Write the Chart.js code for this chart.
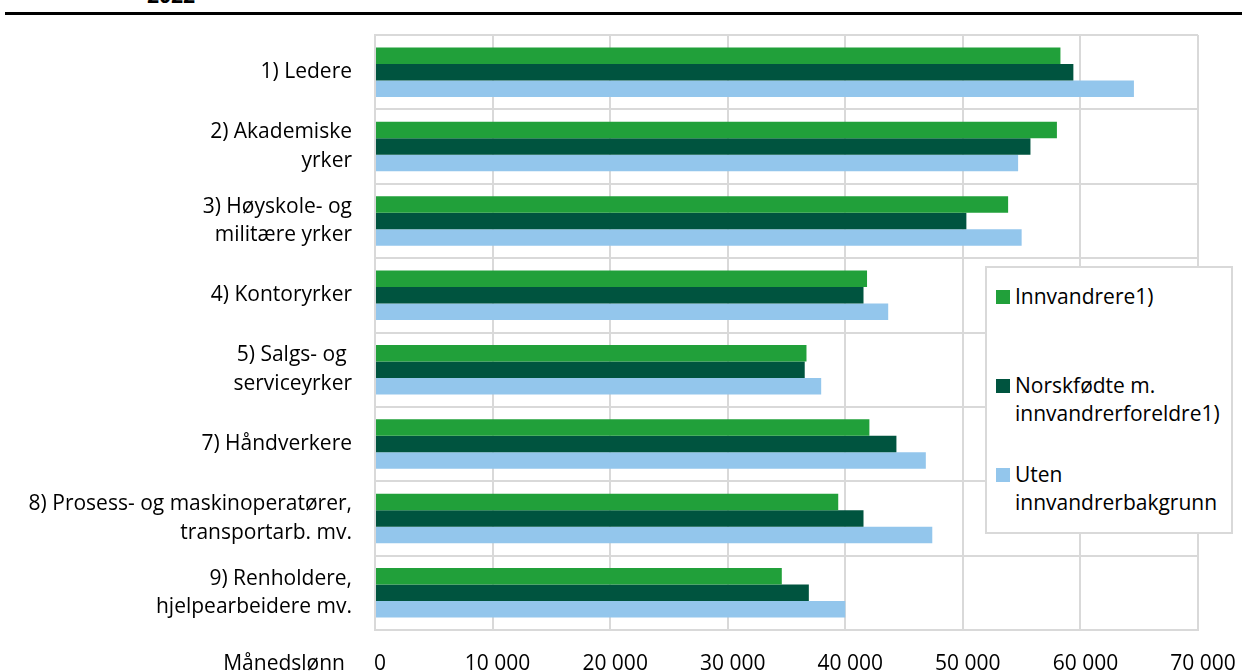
<!DOCTYPE html>
<html lang="no">
<head>
<meta charset="utf-8">
<title>Månedslønn etter yrke og innvandringsbakgrunn</title>
<script src="https://cdn.jsdelivr.net/npm/chart.js@4"></script>
<style>
  html, body { margin: 0; padding: 0; background: #fff; }
  body { width: 1242px; height: 672px; position: relative; overflow: hidden; font-family: "Open Sans", sans-serif; color: #000; }
  #year { position: absolute; left: 147px; top: -19px; font-size: 21px; font-weight: bold; line-height: 28px; }
  #rule { position: absolute; left: 5px; right: 0; top: 12px; height: 3px; background: #000; }
  #wrap { position: absolute; left: 0; top: 0; width: 1242px; height: 672px; }
  #legend { position: absolute; left: 985px; top: 266px; width: 248px; height: 268px; box-sizing: border-box;
            border: 2px solid #d9d9d9; background: #fff; font-size: 21px; line-height: 28px; }
  #legend .item { position: absolute; left: 28px; white-space: nowrap; }
  #legend .sw { position: absolute; left: -19px; top: 8px; width: 14px; height: 14px; }
</style>
</head>
<body>
<div id="year">2022</div>
<div id="rule"></div>
<div id="wrap"><canvas id="lonnChart" width="1242" height="672"></canvas></div>
<div id="legend"></div>
<script>
"use strict";

const C = {
  green: "#21a03a", dark: "#00543f", light: "#93c6ec",
  grid: "#d9d9d9", text: "#000000"
};

// Yrkesgrupper (y-akse)
const categories = [
  "1) Ledere",
  ["2) Akademiske", "yrker"],
  ["3) Høyskole- og", "militære yrker"],
  "4) Kontoryrker",
  ["5) Salgs- og ", "serviceyrker"],
  "7) Håndverkere",
  ["8) Prosess- og maskinoperatører,", "transportarb. mv."],
  ["9) Renholdere,", "hjelpearbeidere mv."]
];

// Månedslønn, kroner
const innvandrere   = [58300, 58000, 53850, 41850, 36700, 42050, 39400, 34600];
const norskfodte    = [59400, 55750, 50300, 41550, 36550, 44350, 41550, 36900];
const utenBakgrunn  = [64550, 54700, 55000, 43650, 37950, 46850, 47400, 40000];

const seriesLabels = ["Innvandrere1)", ["Norskfødte m.", "innvandrerforeldre1)"], ["Uten", "innvandrerbakgrunn"]];
const xTicks = [0, 10000, 20000, 30000, 40000, 50000, 60000, 70000];

const fmt = v => String(v).replace(/\B(?=(\d{3})+(?!\d))/g, " ");

// "Månedslønn" ved siden av x-tickene
const axisNote = {
  id: "axisNote",
  afterDraw(chart) {
    const { ctx, chartArea } = chart;
    ctx.save();
    ctx.font = "21px 'Open Sans'";
    ctx.fillStyle = C.text;
    ctx.textAlign = "right";
    ctx.textBaseline = "alphabetic";
    ctx.fillText("Månedslønn", 345, chartArea.bottom + 40);
    ctx.restore();
  }
};

function buildLegend(chart) {
  const box = document.getElementById("legend");
  const tops = [14, 103, 192];
  chart.data.datasets.forEach((ds, i) => {
    const item = document.createElement("div");
    item.className = "item";
    item.style.top = tops[i] + "px";
    const lines = Array.isArray(seriesLabels[i]) ? seriesLabels[i] : [seriesLabels[i]];
    item.innerHTML = lines.join("<br>");
    const sw = document.createElement("span");
    sw.className = "sw";
    sw.style.background = ds.backgroundColor;
    item.appendChild(sw);
    box.appendChild(item);
  });
}

// no label overhang, keep plot box fixed by layout padding
const noPad = s => { s.paddingLeft = 0; s.paddingRight = 0; s.paddingTop = 0; s.paddingBottom = 0; };

function initChart() {
  Chart.defaults.color = C.text;
  Chart.defaults.font.family = "'Open Sans', sans-serif";
  Chart.defaults.font.size = 21;

  const mk = (label, color, data) => ({
    label, data, backgroundColor: color, borderWidth: 0,
    categoryPercentage: 0.664, barPercentage: 1.0
  });

  const chart = new Chart(document.getElementById("lonnChart"), {
    type: "bar",
    data: {
      labels: categories,
      datasets: [
        mk("Innvandrere1)", C.green, innvandrere),
        mk("Norskfødte m. innvandrerforeldre1)", C.dark, norskfodte),
        mk("Uten innvandrerbakgrunn", C.light, utenBakgrunn)
      ]
    },
    options: {
      indexAxis: "y",
      responsive: false,
      animation: false,
      layout: { padding: { top: 35, right: 44, left: 0, bottom: 0 } },
      plugins: { legend: { display: false }, tooltip: { enabled: false } },
      scales: {
        x: {
          min: 0, max: 70000,
          afterBuildTicks: s => { s.ticks = xTicks.map(v => ({ value: v })); },
          afterFit: s => { s.height = 42; noPad(s); },
          grid: { color: C.grid, lineWidth: 2, drawTicks: false },
          border: { color: C.grid, width: 2 },
          ticks: { padding: 21, labelOffset: 5, maxRotation: 0, callback: v => fmt(v) }
        },
        y: {
          afterFit: s => { s.width = 375; noPad(s); },
          grid: { color: C.grid, lineWidth: 2, drawTicks: false },
          border: { color: C.grid, width: 2 },
          ticks: { padding: 23, font: { size: 21, lineHeight: 1.35 } }
        }
      }
    },
    plugins: [axisNote]
  });
  buildLegend(chart);
}

document.readyState === "loading"
  ? document.addEventListener("DOMContentLoaded", initChart)
  : initChart();
</script>
</body>
</html>
